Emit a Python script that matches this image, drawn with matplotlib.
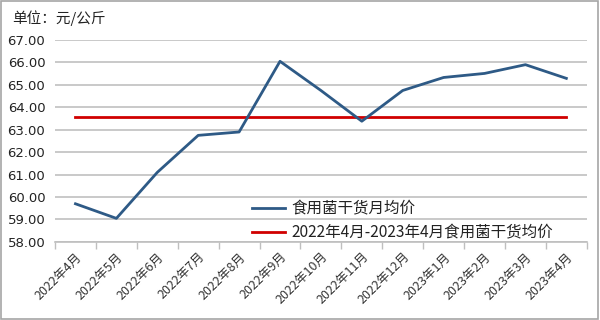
import matplotlib
matplotlib.use("Agg")
import matplotlib.pyplot as plt
from matplotlib.patches import Rectangle

plt.rcParams['font.family'] = ['Noto Sans CJK SC', 'DejaVu Sans']

months = ["2022年4月", "2022年5月", "2022年6月", "2022年7月", "2022年8月", "2022年9月",
          "2022年10月", "2022年11月", "2022年12月", "2023年1月", "2023年2月", "2023年3月", "2023年4月"]
monthly_avg = [59.70, 59.05, 61.10, 62.75, 62.90, 66.05, 64.75, 63.38, 64.75, 65.33, 65.51, 65.90, 65.29]
period_avg = [63.57] * len(months)
yticks = [58, 59, 60, 61, 62, 63, 64, 65, 66, 67]

series_names = ["食用菌干货月均价", "2022年4月-2023年4月食用菌干货均价"]

fig = plt.figure(figsize=(6, 3.2), dpi=100)
ax = fig.add_axes([0.0917, 0.244, 0.978 - 0.0917, 0.875 - 0.244])

x = list(range(len(months)))
ax.plot(x, monthly_avg, color='#2E5A86', lw=2.0, label=series_names[0], zorder=3)
ax.plot(x, period_avg, color='#D00000', lw=2.0, label=series_names[1], zorder=2)

ax.set_xlim(-0.5, len(months) - 0.5)
ax.set_ylim(58, 67)
ax.set_yticks(yticks)
ax.set_yticklabels([f"{v:.2f}" for v in yticks], fontsize=9.5, color='#222222',
                   family=['DejaVu Sans'])
ax.yaxis.grid(True, color='#C0C0C0', lw=1.2)
ax.set_axisbelow(True)
ax.tick_params(axis='y', length=0, pad=7)

ax.set_xticks(x)
ax.set_xticklabels(months, rotation=45, ha='right', va='top', rotation_mode='anchor',
                   fontsize=9, color='#333333')
ax.set_xticks([i - 0.5 for i in range(len(months) + 1)], minor=True)
ax.tick_params(axis='x', which='major', length=0, pad=6)
ax.tick_params(axis='x', which='minor', length=5, color='#BFBFBF', width=1)

for s in ['top', 'right', 'left']:
    ax.spines[s].set_visible(False)
ax.spines['bottom'].set_color('#BFBFBF')
ax.spines['bottom'].set_linewidth(1.2)

leg = ax.legend(loc='upper left', bbox_to_anchor=(252 / 600, 1 - 200 / 320),
                bbox_transform=fig.transFigure, frameon=False, fontsize=11.2,
                handlelength=2.1, handletextpad=0.45, labelspacing=0.45,
                borderaxespad=0, borderpad=0)
for t in leg.get_texts():
    t.set_color('#222222')

fig.text(12 / 600, 1 - 18 / 320, "单位：元/公斤", fontsize=10.5, color='#222222', va='center', ha='left')

fig.patches.append(Rectangle((0.002, 0.003), 0.994, 0.994, transform=fig.transFigure,
                             fill=False, edgecolor='#A6A6A6', lw=1.2))

fig.savefig("out.png", dpi=100)
